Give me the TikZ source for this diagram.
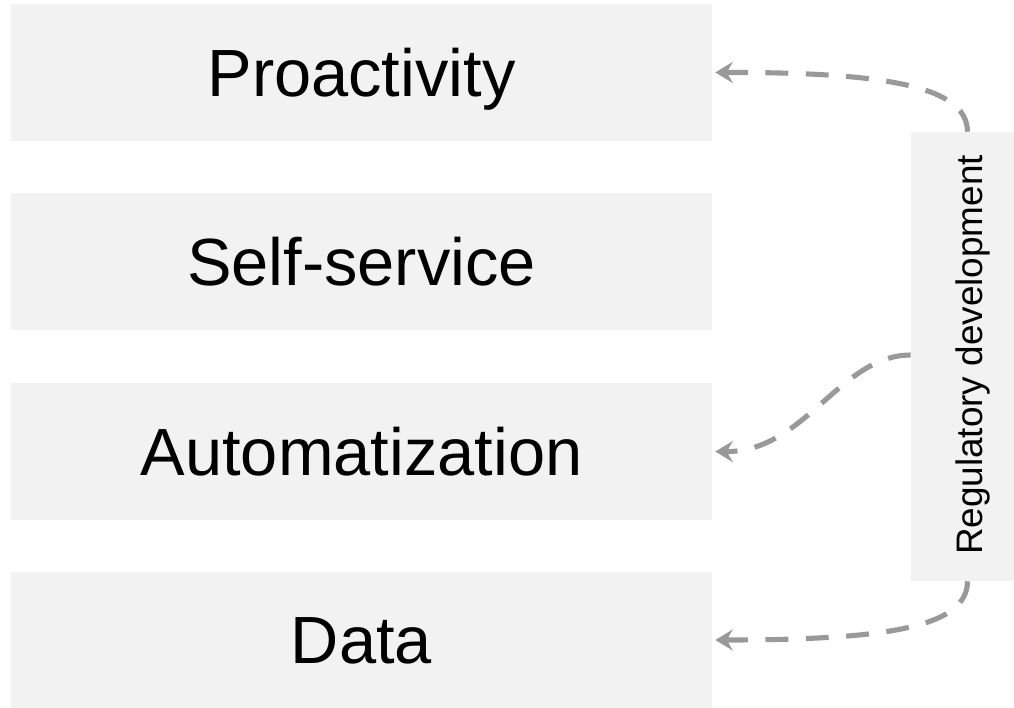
\documentclass[tikz,border=0pt]{standalone}
\usepackage{fontspec}
\setmainfont{Liberation Sans}
\usepackage{xcolor}
\usetikzlibrary{calc,arrows.meta}

\definecolor{boxgray}{HTML}{F2F2F2}
\definecolor{arrowgray}{HTML}{999999}

\tikzset{
  layer/.style={fill=boxgray, draw=none, minimum width=14.02cm, minimum height=2.74cm,
    inner sep=0pt, text height=27pt, text depth=0pt, font=\fontsize{38}{45}\selectfont},
  sidebar/.style={fill=boxgray, draw=none, minimum width=2.06cm, minimum height=8.98cm,
    inner sep=0pt},
  sidelabel/.style={rotate=90, anchor=base, inner sep=0pt, font=\fontsize{21}{25}\selectfont},
  influence/.style={arrowgray, line width=2.9pt, dash pattern=on 13pt off 10pt,
    -{Stealth[length=10pt,width=12pt,inset=3.5pt]}}
}

\begin{document}
\begin{tikzpicture}[x=0.02cm,y=-0.02cm]
  % page frame
  \useasboundingbox (0,0) rectangle (1014,707);

  % stacked layers, top to bottom
  \node[layer] (proact) at (361.5,72.5) {Proactivity};
  \node[layer] (selfserv) at (361.5,261.5) {Self-service};
  \node[layer] (automat) at (361.5,451.5) {Automatization};
  \node[layer] (data) at (361.5,640) {Data};

  % vertical bar on the right, running off the page edge
  \node[sidebar] (reg) at (962.5,356.5) {};
  \node[sidelabel] (reglabel) at (982,355) {Regulatory development};

  % anchor points on the bar and on the layers
  \coordinate (regtop) at ($(reg.north)+(5,0)$);
  \coordinate (regbot) at ($(reg.south)+(5,0)$);
  \coordinate (regleft) at (reg.west |- 0,355);
  \coordinate (inproact) at ($(proact.east)+(3,0)$);
  \coordinate (inautomat) at ($(automat.east)+(3,0)$);
  \coordinate (indata) at ($(data.east)+(3,0)$);

  \draw[influence] (regtop) .. controls (967,90) and (900,72) .. (inproact);
  \draw[influence] (regleft) .. controls (840,355) and (805,452) .. (inautomat);
  \draw[influence] (regbot) .. controls (967,624) and (900,640) .. (indata);
\end{tikzpicture}
\end{document}
